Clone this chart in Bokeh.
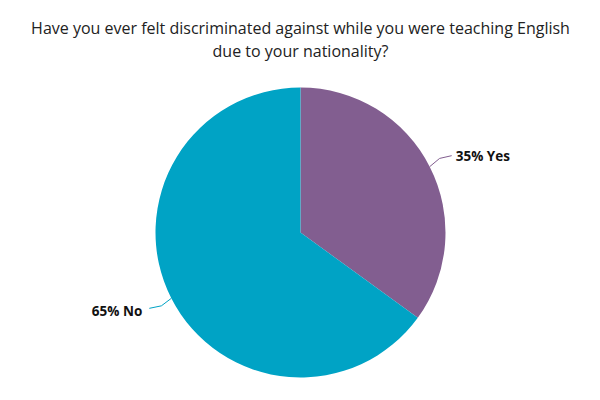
import math
from bokeh.plotting import figure
from bokeh.models import Range1d, ColumnDataSource
from bokeh.core.properties import value
from bokeh.embed import file_html
from bokeh.resources import INLINE

title_lines = ["Have you ever felt discriminated against while you were teaching English",
               "due to your nationality?"]
categories = ["Yes", "No"]
percents = [35, 65]
colors = ["#825E90", "#00A3C5"]

W, H = 584, 384
p = figure(width=W, height=H, output_backend="svg", toolbar_location=None,
           x_range=Range1d(0, W), y_range=Range1d(0, H), min_border=0)
p.axis.visible = False
p.grid.visible = False
p.outline_line_color = None
p.background_fill_color = "white"
p.border_fill_color = "white"

def py(page_y):
    return H - page_y

def px(page_x):
    return page_x

cx, cy, r = px(300), py(232), 145

total = sum(percents)
starts, ends, mids = [], [], []
cum = 0.0
for v in percents:
    a0 = math.pi / 2 - 2 * math.pi * cum / total
    cum += v
    a1 = math.pi / 2 - 2 * math.pi * cum / total
    starts.append(a1)
    ends.append(a0)
    mids.append((a0 + a1) / 2)

src = ColumnDataSource(dict(start=starts, end=ends, color=colors))
p.wedge(x=cx, y=cy, radius=r, start_angle="start", end_angle="end",
        fill_color="color", line_color=None, source=src, direction="anticlock")

# leader lines and labels
for i, (cat, v) in enumerate(zip(categories, percents)):
    m = mids[i]
    x0 = cx + r * math.cos(m)
    y0 = cy + r * math.sin(m)
    right = math.cos(m) >= 0
    dx = 22 if right else -22
    x1 = x0 + dx
    y1 = y0 + 11 if right else y0 - 10
    xs = [x0, x0 + dx * 0.45, x1]
    ys = [y0, y1 - (y1 - y0) * 0.25, y1]
    p.line(xs, ys, line_color=colors[i], line_width=1)
    p.text(x=[x1 + (4 if right else -7)], y=[y1 + (0 if right else -3)], text=[f"{v}% {cat}"],
           text_font=value("Open Sans"), text_font_style="bold",
           text_font_size="13.5px", text_color="#111111",
           text_align="left" if right else "right", text_baseline="middle")

p.text(x=[px(300), px(300)], y=[py(27), py(50)], text=title_lines,
       text_font=value("Open Sans"), text_font_size="16px", text_color="#222222",
       text_align="center", text_baseline="middle")

open("out.html", "w").write(file_html(p, INLINE))
